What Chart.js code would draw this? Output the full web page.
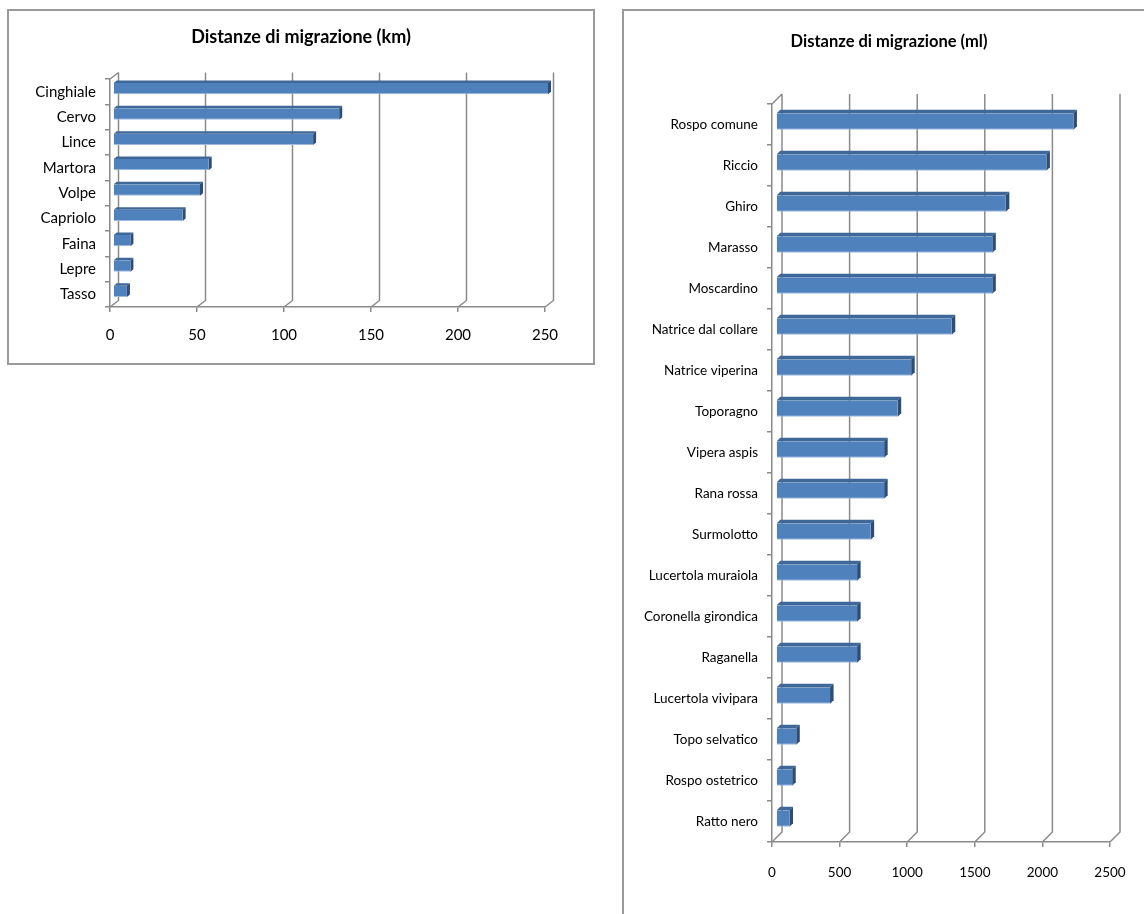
<!DOCTYPE html>
<html>
<head>
<meta charset="utf-8">
<title>Distanze di migrazione</title>
<script src="https://cdn.jsdelivr.net/npm/chart.js@4.4.0/dist/chart.umd.min.js"></script>
<style>
  html, body { margin: 0; padding: 0; background: #fff; overflow: hidden; }
  body { width: 1144px; height: 914px; position: relative; }
  .frame { position: absolute; border: 2px solid #9a9a9a; box-sizing: border-box; }
  #kmFrame { left: 7px; top: 9px; width: 588px; height: 356px; }
  #mlFrame { left: 622px; top: 9px; width: 600px; height: 1000px; }
  canvas { position: absolute; }
  #kmChart { left: 0; top: 0; }
  #mlChart { left: 624px; top: 0; }
</style>
</head>
<body>
<div class="frame" id="kmFrame"></div>
<div class="frame" id="mlFrame"></div>
<canvas id="kmChart" width="600" height="370"></canvas>
<canvas id="mlChart" width="520" height="914"></canvas>
<script>
// Mammiferi: distanze in km
const kmSpecies = ["Cinghiale", "Cervo", "Lince", "Martora", "Volpe", "Capriolo", "Faina", "Lepre", "Tasso"];
const kmDistance = [250, 130, 115, 55, 50, 40, 10, 10, 8];
const kmTicks = [0, 50, 100, 150, 200, 250];

// Piccoli animali: distanze in ml
const mlSpecies = ["Rospo comune", "Riccio", "Ghiro", "Marasso", "Moscardino", "Natrice dal collare",
  "Natrice viperina", "Toporagno", "Vipera aspis", "Rana rossa", "Surmolotto", "Lucertola muraiola",
  "Coronella girondica", "Raganella", "Lucertola vivipara", "Topo selvatico", "Rospo ostetrico", "Ratto nero"];
const mlDistance = [2200, 2000, 1700, 1600, 1600, 1300, 1000, 900, 800, 800, 700, 600, 600, 600, 400, 150, 120, 100];
const mlTicks = [0, 500, 1000, 1500, 2000, 2500];

const FONT = "Lato, 'Open Sans', sans-serif";
const GRID = "#8a8a8a";
const BLUE = "#4F81BD";

// fake 3D: back wall gridlines, then bars shifted into depth with top and end faces
const depthPlugin = {
  id: "depth",
  beforeDatasetsDraw(chart, args, opts) {
    const { ctx, chartArea: a, scales: { x } } = chart;
    const [dx, dy] = opts.wall;
    ctx.save();
    ctx.strokeStyle = GRID;
    ctx.lineWidth = 1.5;
    ctx.beginPath();
    x.ticks.forEach(t => {
      const px = x.getPixelForValue(t.value);
      ctx.moveTo(px + dx, a.top + dy);
      ctx.lineTo(px + dx, a.bottom + dy);
      ctx.lineTo(px, a.bottom);
    });
    ctx.moveTo(a.left, a.top);
    ctx.lineTo(a.left + dx, a.top + dy);
    ctx.stroke();
    ctx.restore();
    ctx.save();
    ctx.translate(opts.shift[0], opts.shift[1]);
  },
  afterDatasetsDraw(chart, args, opts) {
    const ctx = chart.ctx;
    ctx.restore();
    const [sx, sy] = opts.shift;
    const [fx, fy] = opts.face;
    chart.getDatasetMeta(0).data.forEach(bar => {
      const { x, y, base, height } = bar.getProps(["x", "y", "base", "height"], true);
      const top = y - height / 2 + sy, bottom = y + height / 2 + sy;
      const x0 = base + sx, x1 = x + sx;
      ctx.fillStyle = "#3F6797";
      ctx.beginPath();
      ctx.moveTo(x0, top);
      ctx.lineTo(x1, top);
      ctx.lineTo(x1 + fx, top + fy);
      ctx.lineTo(x0 + fx, top + fy);
      ctx.closePath();
      ctx.fill();
      ctx.fillStyle = "#2C4D77";
      ctx.beginPath();
      ctx.moveTo(x1, top);
      ctx.lineTo(x1 + fx, top + fy);
      ctx.lineTo(x1 + fx, bottom + fy);
      ctx.lineTo(x1, bottom);
      ctx.closePath();
      ctx.fill();
    });
  },
  // heading centred over the whole box, not just the plot area
  afterDraw(chart, args, opts) {
    const ctx = chart.ctx;
    ctx.save();
    ctx.fillStyle = "#000";
    ctx.font = "bold " + opts.titleSize + "px " + FONT;
    ctx.textAlign = "center";
    ctx.textBaseline = "middle";
    ctx.fillText(opts.title, opts.titleAt[0], opts.titleAt[1]);
    ctx.restore();
  }
};

function makeChart(id, cfg) {
  return new Chart(document.getElementById(id), {
    type: "bar",
    data: {
      labels: cfg.labels,
      datasets: [{
        data: cfg.values,
        backgroundColor: BLUE,
        borderColor: "#9DB9DE",
        borderWidth: { top: 0, left: 0, right: 0, bottom: 1 },
        borderSkipped: false,
        barPercentage: cfg.barPct,
        categoryPercentage: 1,
        clip: false
      }]
    },
    options: {
      indexAxis: "y",
      responsive: false,
      animation: false,
      layout: { padding: cfg.padding },
      plugins: {
        legend: { display: false },
        tooltip: { enabled: false },
        title: { display: false },
        depth: cfg.depth
      },
      scales: {
        x: {
          min: cfg.ticks[0],
          max: cfg.ticks[cfg.ticks.length - 1],
          afterBuildTicks: s => { s.ticks = cfg.ticks.map(v => ({ value: v })); },
          ticks: {
            color: "#000",
            font: { family: FONT, size: cfg.fontSize },
            padding: cfg.xPad,
            callback: v => String(v)
          },
          grid: { drawOnChartArea: false, tickLength: 5, color: GRID, lineWidth: 1.5 },
          border: { color: GRID, width: 1.5 },
          afterFit: s => { s.height = cfg.xHeight; }
        },
        y: {
          ticks: { color: "#000", font: { family: FONT, size: cfg.fontSize }, padding: 9, autoSkip: false },
          grid: { drawOnChartArea: false, tickLength: 5, color: GRID, lineWidth: 1.5, offset: true },
          border: { color: GRID, width: 1.5 },
          afterFit: s => { s.width = cfg.yWidth; }
        }
      }
    },
    plugins: [depthPlugin]
  });
}

makeChart("kmChart", {
  labels: kmSpecies,
  values: kmDistance,
  ticks: kmTicks,
  fontSize: 15,
  padding: { left: 20, right: 55, top: 79, bottom: 0 },
  yWidth: 90,
  xHeight: 63,
  xPad: 14,
  barPct: 0.45,
  depth: {
    wall: [8.5, -6.5], shift: [3, -3], face: [3, -2.5],
    title: "Distanze di migrazione (km)", titleSize: 18, titleAt: [301, 37]
  }
});

makeChart("mlChart", {
  labels: mlSpecies,
  values: mlDistance,
  ticks: mlTicks,
  fontSize: 13.5,
  padding: { left: 10, right: 34, top: 104, bottom: 0 },
  yWidth: 138,
  xHeight: 72,
  xPad: 18,
  barPct: 0.4,
  depth: {
    wall: [10, -10], shift: [4, -3], face: [3.5, -3.5],
    title: "Distanze di migrazione (ml)", titleSize: 16.5, titleAt: [265, 42]
  }
});
</script>
</body>
</html>
